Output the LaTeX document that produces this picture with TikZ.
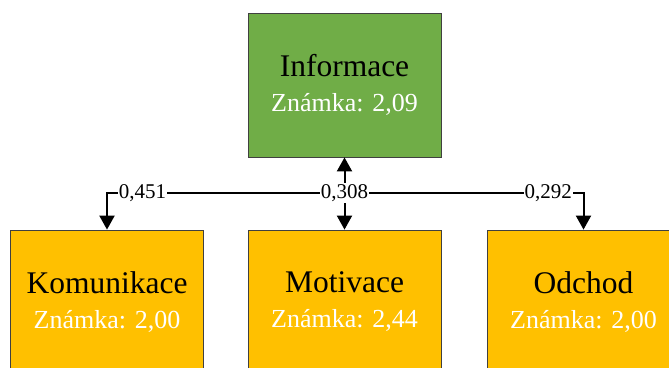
\documentclass[tikz,border=0pt]{standalone}
\usepackage{fontspec}
\setmainfont{Liberation Serif}
\usetikzlibrary{arrows.meta}
\definecolor{grn}{HTML}{70AD47}
\definecolor{org}{HTML}{FFC000}
\definecolor{edge}{HTML}{404040}
\newcommand{\ttl}[1]{{\fontsize{31.5}{35}\selectfont #1}}
\newcommand{\grade}[1]{{\color{white}\fontsize{26}{35}\selectfont Známka: #1}}
\begin{document}
\begin{tikzpicture}[x=1pt,y=-1pt,
    box/.style={draw=edge,line width=0.8pt,minimum width=193pt,minimum height=144pt,align=center,inner sep=0pt,font=\fontsize{26}{35}\selectfont},
    arr/.style={line width=2pt,-{Triangle[width=15pt,length=14pt]}},
    lbl/.style={fill=white,inner sep=1pt,font=\fontsize{21}{22}\selectfont}]
    \path[use as bounding box,clip] (0,0) rectangle (669,367);
    \node[box,fill=grn] (info) at (344.5,85) {\ttl{Informace}\\\grade{2,09}};
    \node[box,fill=org] (komu) at (107,302) {\ttl{Komunikace}\\\grade{2,00}};
    \node[box,fill=org] (moti) at (344.5,302) {\ttl{Motivace}\\\grade{2,44}};
    \node[box,fill=org] (odch) at (583.5,302) {\ttl{Odchod}\\\grade{2,00}};
    \coordinate (j) at (344.5,193);
    % connectors
    \draw[arr] (j) -- (info);
    \draw[arr] (j) -- (moti);
    \draw[arr] (j) -| node[lbl,pos=0.425] {0,451} (komu);
    \draw[arr] (j) -| node[lbl,pos=0.426] {0,292} (odch);
    \node[lbl] (w) at (j) {0,308};
\end{tikzpicture}
\end{document}
